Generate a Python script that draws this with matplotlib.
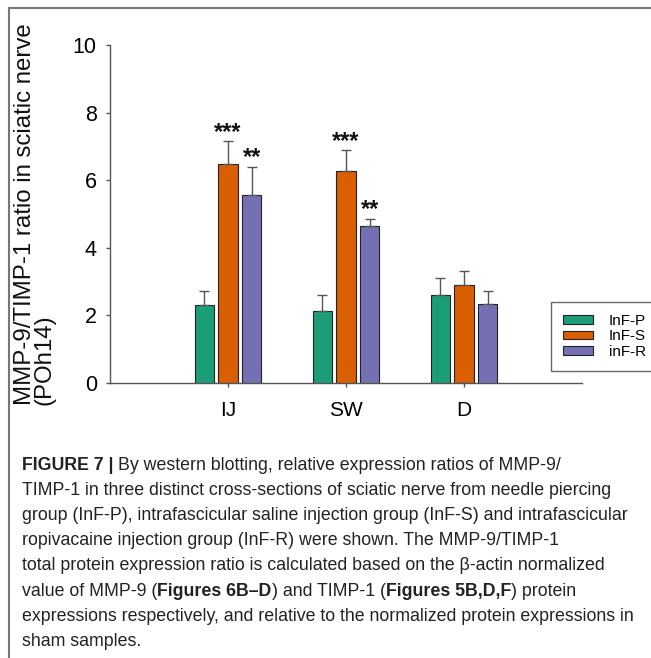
import numpy as np
import matplotlib.pyplot as plt
from matplotlib.lines import Line2D

groups = ['IJ', 'SW', 'D']
series = ['InF-P', 'InF-S', 'inF-R']
inf_p = [2.31, 2.13, 2.61]
inf_p_err = [0.41, 0.47, 0.51]
inf_s = [6.48, 6.28, 2.89]
inf_s_err = [0.68, 0.60, 0.43]
inf_r = [5.56, 4.64, 2.35]
inf_r_err = [0.83, 0.22, 0.36]
sig_s = ['***', '***', '']
sig_r = ['**', '**', '']
colors = ['#1b9e77', '#d95f02', '#7570b3']

caption = [
    [("FIGURE 7 | ", True), ("By western blotting, relative expression ratios of MMP-9/", False)],
    [("TIMP-1 in three distinct cross-sections of sciatic nerve from needle piercing", False)],
    [("group (InF-P), intrafascicular saline injection group (InF-S) and intrafascicular", False)],
    [("ropivacaine injection group (InF-R) were shown. The MMP-9/TIMP-1", False)],
    [("total protein expression ratio is calculated based on the \u03b2-actin normalized", False)],
    [("value of MMP-9 (", False), ("Figures 6B\u2013D", True), (") and TIMP-1 (", False),
     ("Figures 5B,D,F", True), (") protein", False)],
    [("expressions respectively, and relative to the normalized protein expressions in", False)],
    [("sham samples.", False)],
]

plt.rcParams['font.family'] = ['Liberation Sans', 'DejaVu Sans']

W, H = 651, 658
fig = plt.figure(figsize=(W / 100, H / 100), dpi=100)
ax = fig.add_axes([110 / W, 1 - 383 / H, 472 / W, 338 / H])

x = np.arange(1, len(groups) + 1)
width = 0.165
offsets = [-0.2, 0, 0.2]
vals = [inf_p, inf_s, inf_r]
errs = [inf_p_err, inf_s_err, inf_r_err]
for i in range(3):
    ax.bar(x + offsets[i], vals[i], width, color=colors[i], edgecolor='#222222',
           linewidth=0.8, label=series[i],
           yerr=[np.zeros(3), errs[i]],
           error_kw=dict(ecolor='#555555', elinewidth=1.0, capsize=3.5, capthick=1.0))

for j in range(3):
    if sig_s[j]:
        ax.text(x[j] + offsets[1], inf_s[j] + inf_s_err[j] + 0.06, sig_s[j],
                ha='center', va='baseline', fontsize=17, fontweight='bold', color='#111111')
    if sig_r[j]:
        ax.text(x[j] + offsets[2], inf_r[j] + inf_r_err[j] + 0.08, sig_r[j],
                ha='center', va='baseline', fontsize=17, fontweight='bold', color='#111111')

ax.set_xlim(0, 4)
ax.set_ylim(0, 10)
ax.set_yticks([0, 2, 4, 6, 8, 10])
ax.set_xticks(x)
ax.set_xticklabels(groups, fontsize=15)
ax.tick_params(axis='y', labelsize=15.5, length=3, width=1, color='#555555', pad=6.5)
ax.tick_params(axis='x', length=3, width=1, color='#555555', pad=10)
for s in ['top', 'right']:
    ax.spines[s].set_visible(False)
for s in ['left', 'bottom']:
    ax.spines[s].set_color('#555555')
    ax.spines[s].set_linewidth(1.0)

fig.text(35 / W, 1 - 405 / H, 'MMP-9/TIMP-1 ratio in sciatic nerve\n(POh14)',
         rotation=90, ha='center', va='bottom', multialignment='left',
         fontsize=17.3, linespacing=0.85, color='#111111')

leg = fig.legend(loc='upper left', bbox_to_anchor=(551 / W, 1 - 302 / H),
                 fontsize=11, frameon=True, fancybox=False, handlelength=1.95,
                 handleheight=0.52, labelspacing=0.08, handletextpad=1.05,
                 borderpad=0.8, borderaxespad=0)
leg.get_frame().set_edgecolor('#444444')
leg.get_frame().set_linewidth(1.0)

# outer frame of the figure panel
fig.add_artist(Line2D([9 / W, 1], [1 - 8 / H] * 2, transform=fig.transFigure,
                      color='#777777', lw=1.5))
fig.add_artist(Line2D([9 / W] * 2, [0, 1 - 8 / H], transform=fig.transFigure,
                      color='#777777', lw=1.5))

# caption with bold pieces
renderer = fig.canvas.get_renderer()
y0, step = 465, 25.2
for k, line in enumerate(caption):
    xpos = 22
    for txt, bold in line:
        t = fig.text(xpos / W, 1 - (y0 + k * step) / H, txt, fontsize=12.8,
                     fontweight='bold' if bold else 'normal',
                     color='#222222', ha='left', va='center')
        bb = t.get_window_extent(renderer=renderer)
        xpos += bb.width

fig.savefig('out.png', dpi=100)
